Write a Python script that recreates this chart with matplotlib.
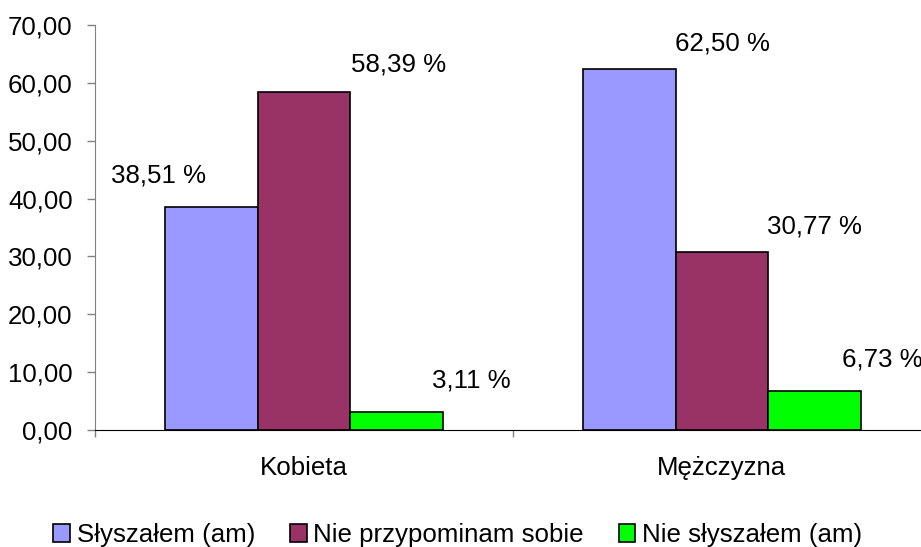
import numpy as np
from matplotlib import pyplot as plt

categories = ["Kobieta", "Mężczyzna"]
series = ["Słyszałem (am)", "Nie przypominam sobie", "Nie słyszałem (am)"]
values = [
    [38.51, 62.50],   # Słyszałem (am)
    [58.39, 30.77],   # Nie przypominam sobie
    [3.11, 6.73],     # Nie słyszałem (am)
]
colors = ["#9999FF", "#993366", "#00FF00"]
# label offsets from bar top (pixels), picked by eye to follow the original
label_offsets = [
    [(-53, 32), (93, 25)],
    [(95, 28), (92, 25)],
    [(75, 31), (68, 31)],
]

plt.rcParams['font.family'] = ['Liberation Sans', 'DejaVu Sans']
fs = 18.6

fig = plt.figure(figsize=(9.21, 5.47), dpi=100)
ax = fig.add_axes([0.1031, 0.2148, 0.9077, 0.7386])

x = np.arange(len(categories))
w = 0.2213
for i, (name, vals) in enumerate(zip(series, values)):
    pos = x + (i - 1) * w
    bars = ax.bar(pos, vals, w, color=colors[i], edgecolor='black',
                  linewidth=1.2, label=name)
    for b, v, off in zip(bars, vals, label_offsets[i]):
        ax.annotate(f"{v:.2f} %".replace('.', ','),
                    (b.get_x() + b.get_width() / 2, b.get_height()),
                    xytext=off, textcoords='offset pixels',
                    ha='center', va='center', fontsize=fs, clip_on=False)

ax.set_xlim(-0.5, 1.5)
ax.set_ylim(0, 70)
ax.set_yticks(np.arange(0, 71, 10))
ax.set_yticklabels([f"{t:.2f}".replace('.', ',') for t in np.arange(0, 71, 10)])

ax.set_xticks([-0.5, 0.5, 1.5])
ax.set_xticklabels([])
ax.set_xticks(x, minor=True)
ax.set_xticklabels(categories, minor=True)
ax.tick_params(axis='x', which='minor', length=0, pad=19, labelsize=fs)
ax.tick_params(axis='x', which='major', length=5, color='#808080', width=1)
ax.tick_params(axis='y', length=6, pad=10, color='#808080', width=1, labelsize=fs)

for s in ['top', 'right']:
    ax.spines[s].set_visible(False)
ax.spines['left'].set_color('#808080')
ax.spines['bottom'].set_color('black')

fig.legend(loc='center', bbox_to_anchor=(0.497, 0.022), ncol=3, frameon=False,
           fontsize=fs, handlelength=0.65, handleheight=0.65,
           handletextpad=0.25, columnspacing=1.35, borderaxespad=0)

fig.savefig("out.png", dpi=100)
